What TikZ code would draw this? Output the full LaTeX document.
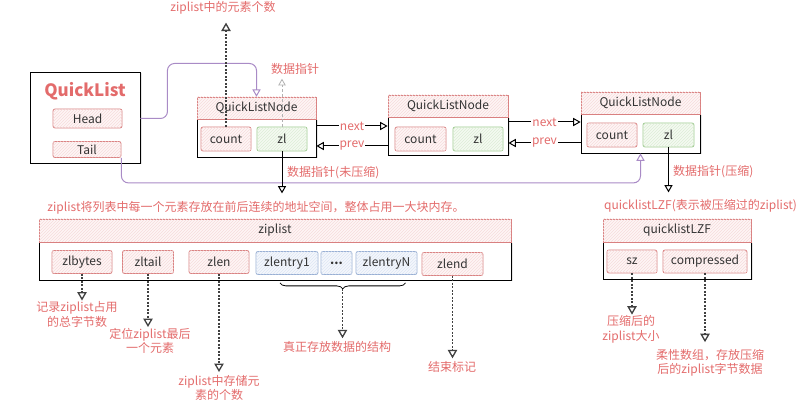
\documentclass[tikz,border=0pt]{standalone}
\usepackage{fontspec}
\setmainfont{Noto Sans CJK SC}
\usetikzlibrary{shapes}
\usetikzlibrary{arrows}
\usetikzlibrary{patterns,shadows,decorations.pathreplacing}
\definecolor{notered}{HTML}{E36B6B}
\definecolor{redline}{HTML}{D98080}
\definecolor{redfill}{HTML}{FEF6F6}
\definecolor{redhatch}{HTML}{F6DCDC}
\definecolor{greenline}{HTML}{9FCB90}
\definecolor{greenfill}{HTML}{F4FAF2}
\definecolor{greenhatch}{HTML}{DDEDD7}
\definecolor{blueline}{HTML}{97AED3}
\definecolor{bluefill}{HTML}{F4F7FC}
\definecolor{bluehatch}{HTML}{DDE6F4}
\definecolor{linkpurple}{HTML}{A98BC6}
\definecolor{boxtext}{HTML}{333333}

\begin{document}
\begin{tikzpicture}[x=1pt,y=-1pt]
	\tikzstyle{every node}=[font=\fontsize{12}{14.5}\selectfont, inner sep=0pt, text=boxtext]
	\tikzstyle{body}=[draw=black, line width=0.9pt, fill=white, drop shadow={opacity=0.2, shadow xshift=1.5pt, shadow yshift=-1.5pt}]
	\tikzstyle{titlebar}=[draw=redline, line width=0.5pt, fill=redfill, postaction={pattern=north east lines, pattern color=redhatch}]
	\tikzstyle{rfield}=[draw=redline, line width=0.8pt, rounded corners=2pt, fill=redfill, postaction={pattern=north east lines, pattern color=redhatch}, minimum height=23pt]
	\tikzstyle{gfield}=[draw=greenline, line width=0.8pt, rounded corners=2pt, fill=greenfill, postaction={pattern=north east lines, pattern color=greenhatch}, minimum height=23pt]
	\tikzstyle{bfield}=[draw=blueline, line width=0.8pt, rounded corners=2pt, fill=bluefill, postaction={pattern=north east lines, pattern color=bluehatch}, minimum height=23pt]
	\tikzstyle{note}=[text=notered, align=center]
	\tikzstyle{link}=[draw=linkpurple, line width=1pt, rounded corners=7pt, -open triangle 60]
	\tikzstyle{ptr}=[draw=black, line width=1pt, -open triangle 60]
	\tikzstyle{dashptr}=[draw=black!75, line width=1.3pt, dash pattern=on 2pt off 1.5pt, -open triangle 60]
	\tikzstyle{tag}=[note, fill=white, inner sep=1pt]
	
	\useasboundingbox (0,0) rectangle (806,403);
	
	\node[body, minimum width=110pt, minimum height=91pt] (qlist) at (85,117.5) {};
	\node[text=notered, font=\fontsize{17}{20}\selectfont\bfseries] (qltitle) at (85,91) {QuickList};
	\node[rfield, minimum width=69pt, minimum height=19pt] (head) at (87.5,118.5) {Head};
	\node[rfield, minimum width=68pt, minimum height=16pt] (tail) at (87,149.5) {Tail};
	
	\node[body, minimum width=119pt, minimum height=38pt] (qln1) at (256.5,138) {};
	\node[titlebar, minimum width=119pt, minimum height=22pt] (qln1h) at (256.5,108) {QuickListNode};
	\node[rfield, minimum width=50pt, minimum height=24pt] (cnt1) at (226,139) {count};
	\node[gfield, minimum width=50pt, minimum height=24pt] (zl1) at (282,139) {zl};
	
	\node[body, minimum width=120pt, minimum height=38pt] (qln2) at (448,136) {};
	\node[titlebar, minimum width=120pt, minimum height=22pt] (qln2h) at (448,106) {QuickListNode};
	\node[rfield, minimum width=51pt, minimum height=24pt] (cnt2) at (420.5,139) {count};
	\node[gfield, minimum width=50pt, minimum height=24pt] (zl2) at (478,139) {zl};
	
	\node[body, minimum width=119pt, minimum height=39pt] (qln3) at (640.5,133.5) {};
	\node[titlebar, minimum width=119pt, minimum height=22pt] (qln3h) at (640.5,103) {QuickListNode};
	\node[rfield, minimum width=50pt, minimum height=24pt] (cnt3) at (612,135) {count};
	\node[gfield, minimum width=51pt, minimum height=24pt] (zl3) at (668.5,135) {zl};
	
	\coordinate (nx1) at ([yshift=12pt]qln1.east);
	\coordinate (pv1) at ([yshift=-8pt]qln1.east);
	\coordinate (nx2) at ([yshift=14pt]qln2.east);
	\coordinate (pv2) at ([yshift=-7pt]qln2.east);
	\draw[ptr] (nx1) -- (nx1 -| qln2.west) node[midway, tag] {next};
	\draw[ptr] (pv1 -| qln2.west) -- (pv1) node[midway, tag] {prev};
	\draw[ptr] (nx2) -- (nx2 -| qln3.west) node[midway, tag] {next};
	\draw[ptr] (pv2 -| qln3.west) -- (pv2) node[midway, tag] {prev};
	
	\draw[link] (qlist.east |- head.east) -- ++(27,0) -- ++(0,-55) -| (qln1h.north);
	\draw[link] (tail.south east) -- ++(0,25) -| (qln3.south);
	
	\node[note] (cntnote) at (223,8) {ziplist中的元素个数};
	\draw[dashptr, shorten >=8pt] (cnt1.north) -- (cnt1.north |- cntnote.south);
	\node[note] (ptrnote) at (295,69) {数据指针};
	\draw[dashptr, draw=gray!60, line width=0.8pt, dash pattern=on 3pt off 2pt, shorten >=4pt] (zl1.north) -- (zl1.north |- ptrnote.south);
	
	\node[note] (zipnote) at (256,208) {ziplist将列表中每一个元素存放在前后连续的地址空间，整体占用一大块内存。};
	\draw[ptr, shorten >=8pt] (zl1.south) -- (zl1.south |- zipnote.north);
	\node[note, anchor=west] (rawnote) at (287,173) {数据指针(未压缩)};
	
	\node[note] (lzfnote) at (700.5,206) {quicklistLZF(表示被压缩过的ziplist)};
	\draw[ptr, shorten >=7pt] (zl3.south) -- (zl3.south |- lzfnote.north);
	\node[note, anchor=west] (lzfptr) at (673,172) {数据指针(压缩)};
	
	\node[body, minimum width=472pt, minimum height=38pt] (zip) at (275,261) {};
	\node[titlebar, minimum width=472pt, minimum height=23pt] (ziph) at (275,230.5) {ziplist};
	\node[rfield, minimum width=60pt] (zlb) at (82,262) {zlbytes};
	\node[rfield, minimum width=51pt] (zlt) at (148,262) {zltail};
	\node[rfield, minimum width=60pt] (zll) at (219,262) {zlen};
	\node[bfield, minimum width=62pt] (ent1) at (287,263) {zlentry1};
	\node[bfield, minimum width=31pt] (entd) at (336.5,263) {\textbf{...}};
	\node[bfield, minimum width=61pt] (entn) at (386.5,263) {zlentryN};
	\node[rfield, minimum width=61pt] (zle) at (452.5,264) {zlend};
	\draw[line width=0.8pt, decorate, decoration={brace, mirror, amplitude=6pt}] ([xshift=-7pt,yshift=-8pt]ent1.south) -- ([xshift=19pt,yshift=-8pt]entn.south);
	\coordinate (brc) at (342.5,289);
	
	\node[note] (zlbnote) at (77,314.5) {记录ziplist占用\\的总字节数};
	\node[note] (zltnote) at (150,341) {定位ziplist最后\\一个元素};
	\node[note] (zllnote) at (219,388) {ziplist中存储元\\素的个数};
	\node[note] (entnote) at (337,347) {真正存放数据的结构};
	\node[note] (zlenote) at (452,367) {结束标记};
	\draw[dashptr, shorten >=1pt] (zlb.south) -- (zlb.south |- zlbnote.north);
	\draw[dashptr, shorten >=1pt] (zlt.south) -- (zlt.south |- zltnote.north);
	\draw[dashptr, shorten >=3pt] (zll.south) -- (zll.south |- zllnote.north);
	\draw[dashptr, shorten >=3pt] (brc) -- (brc |- entnote.north);
	\draw[dashptr, shorten >=3pt] (zle.south) -- (zle.south |- zlenote.north);
	
	\node[body, minimum width=148pt, minimum height=37pt] (lzf) at (677,260.5) {};
	\node[titlebar, minimum width=148pt, minimum height=23pt] (lzfh) at (677,230.5) {quicklistLZF};
	\node[rfield, minimum width=50pt] (sz) at (632,261.5) {sz};
	\node[rfield, minimum width=84pt] (cmp) at (705,261.5) {compressed};
	\node[note] (sznote) at (631,329.5) {压缩后的\\ziplist大小};
	\node[note] (cmpnote) at (710,363) {柔性数组，存放压缩\\后的ziplist字节数据};
	\draw[dashptr, shorten >=1pt] (sz.south) -- (sz.south |- sznote.north);
	\draw[dashptr, shorten >=7pt] (cmp.south) -- (cmp.south |- cmpnote.north);
	
\end{tikzpicture}
\end{document}
